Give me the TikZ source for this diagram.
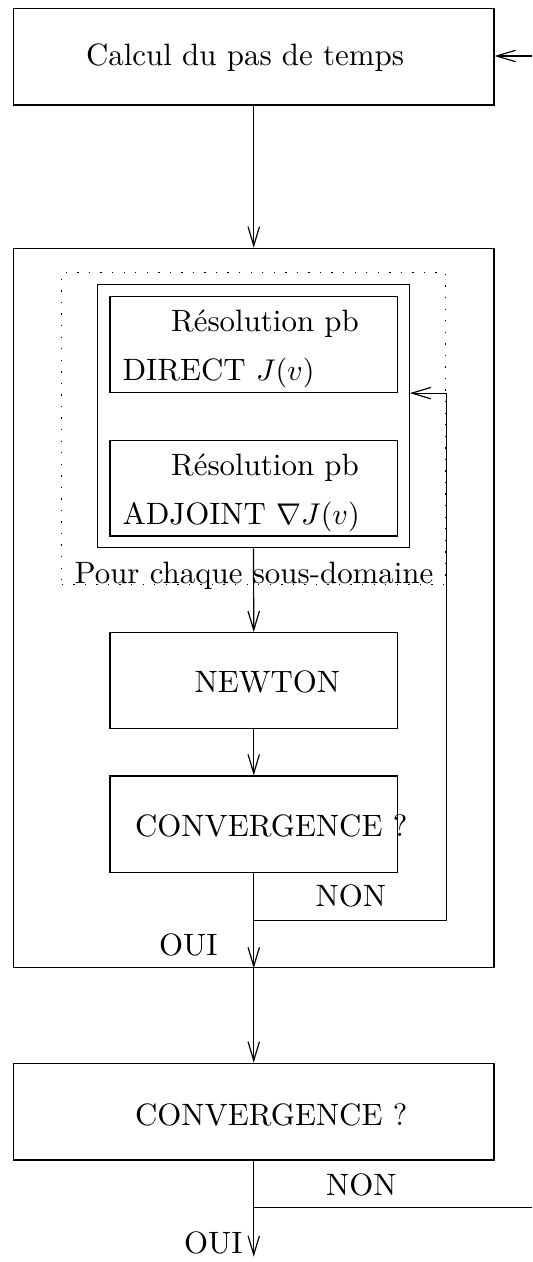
\documentclass[tikz,border=0pt]{standalone}
\usepackage{fontspec}
\usetikzlibrary{arrows.meta,fit}
\tikzset{
  box/.style={draw, inner sep=0pt, line width=0.4pt},
  dotbox/.style={draw, inner sep=0pt, line width=0.45pt, dash pattern=on 0.45pt off 3.4pt},
  txt/.style={anchor=base west, inner sep=0pt, font=\fontsize{10.3pt}{12pt}\selectfont},
  arr/.style={line width=0.4pt, -{Straight Barb[length=6.3pt,width=3.8pt]}},
  conn/.style={line width=0.4pt}
}
\begin{document}
\begin{tikzpicture}[x=0.33333pt,y=-0.33333pt]
\useasboundingbox (0,0) rectangle (532,1262);
% boxes
\node[box, fit={(13.5,8.3) (494,105)}] (box1) {};
\node[box, fit={(13.5,248.3) (494,967.7)}] (big) {};
\node[dotbox, fit={(61.7,272.7) (445.7,584.3)}] (dotted) {};
\node[box, fit={(97.7,284.3) (409.3,547.7)}] (cont) {};
\node[box, fit={(110,296.7) (397.5,392.5)}] (direct) {};
\node[box, fit={(110,440.7) (397.5,536)}] (adjoint) {};
\node[box, fit={(110,632.7) (397.5,728.3)}] (newton) {};
\node[box, fit={(110,776) (397.5,872.3)}] (conv1) {};
\node[box, fit={(13.5,1063.3) (494,1160)}] (conv2) {};
% texts
\node[txt] (t1) at (85.5,65) {Calcul du pas de temps};
\node[txt] (res1) at (170.5,331.7) {Résolution pb};
\node[txt] (dir) at (122,380) {DIRECT $J(v)$};
\node[txt] (res2) at (170.5,475.7) {Résolution pb};
\node[txt] (adj) at (122,524) {ADJOINT $\nabla J(v)$};
\node[txt] (pour) at (74,583.3) {Pour chaque sous-domaine};
\node[txt] (newt) at (194,692.7) {NEWTON};
\node[txt] (cv1) at (134.5,836.7) {CONVERGENCE ?};
\node[txt] (non1) at (315,906.7) {NON};
\node[txt] (oui1) at (158.5,955) {OUI};
\node[txt] (cv2) at (134.5,1125) {CONVERGENCE ?};
\node[txt] (non2) at (325.5,1195) {NON};
\node[txt] (oui2) at (183.5,1253.3) {OUI};
% coordinates
\coordinate (rin) at (532,56);
\coordinate (j1) at (253.75,920.3);
\coordinate (j2) at (253.75,1207.7);
\coordinate (rout) at (532,1207.7);
\coordinate (fin) at (253.75,1256.7);
% connectors
\draw[arr] (box1.south) -- (big.north);
\draw[arr] (cont.south) -- (newton.north);
\draw[arr] (newton.south) -- (conv1.north);
\draw[arr] (conv1.south) -- (big.south);
\draw[arr] (big.south) -- (conv2.north);
\draw[arr] (conv2.south) -- (fin);
\draw[arr] (j1) -| (dotted.east |- direct.south) -- (cont.east |- direct.south);
\draw[arr] (rin) -- (box1.east |- rin);
\draw[conn] (j2) -- (rout);
\end{tikzpicture}
\end{document}
